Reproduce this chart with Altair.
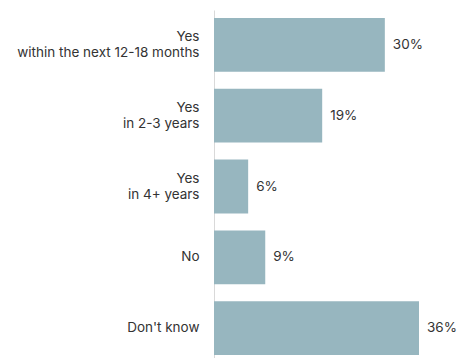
import altair as alt
import pandas as pd

categories = ["Yes|within the next 12-18 months", "Yes|in 2-3 years", "Yes|in 4+ years", "No", "Don't know"]
values = [30, 19, 6, 9, 36]
value_labels = ["30%", "19%", "6%", "9%", "36%"]

df = pd.DataFrame({"cat": categories, "val": values, "lab": value_labels})

FONT = "Inter"

y = alt.Y(
    "cat:N",
    sort=categories,
    scale=alt.Scale(paddingInner=0.24, paddingOuter=0.113),
    axis=alt.Axis(
        title=None,
        ticks=False,
        grid=False,
        domainColor="#d9d9d9",
        domainWidth=1,
        labelPadding=15,
        labelFontSize=13.5,
        labelFont=FONT,
        labelColor="#333333",
        labelLineHeight=16,
        labelLimit=300,
        labelExpr="split(datum.label, '|')",
        labelOffset={"condition": {"test": "indexof(datum.label, '|') >= 0", "value": -8}, "value": 0},
    ),
)
x = alt.X("val:Q", scale=alt.Scale(domain=[0, 43.2]), axis=None)

bars = alt.Chart(df).mark_bar(color="#97b6bf").encode(x=x, y=y)
text = alt.Chart(df).mark_text(
    align="left", baseline="middle", dx=8, fontSize=13.5, font=FONT, color="#333333"
).encode(x=x, y=y, text="lab:N")

chart = (
    (bars + text)
    .properties(
        width=246,
        height=353,
        autosize=alt.AutoSizeParams(type="none"),
        padding={"left": 206, "top": 2, "right": 0, "bottom": 0},
    )
    .configure_view(stroke=None)
)

chart.save("out.html", embed_options={"renderer": "svg", "actions": False})
